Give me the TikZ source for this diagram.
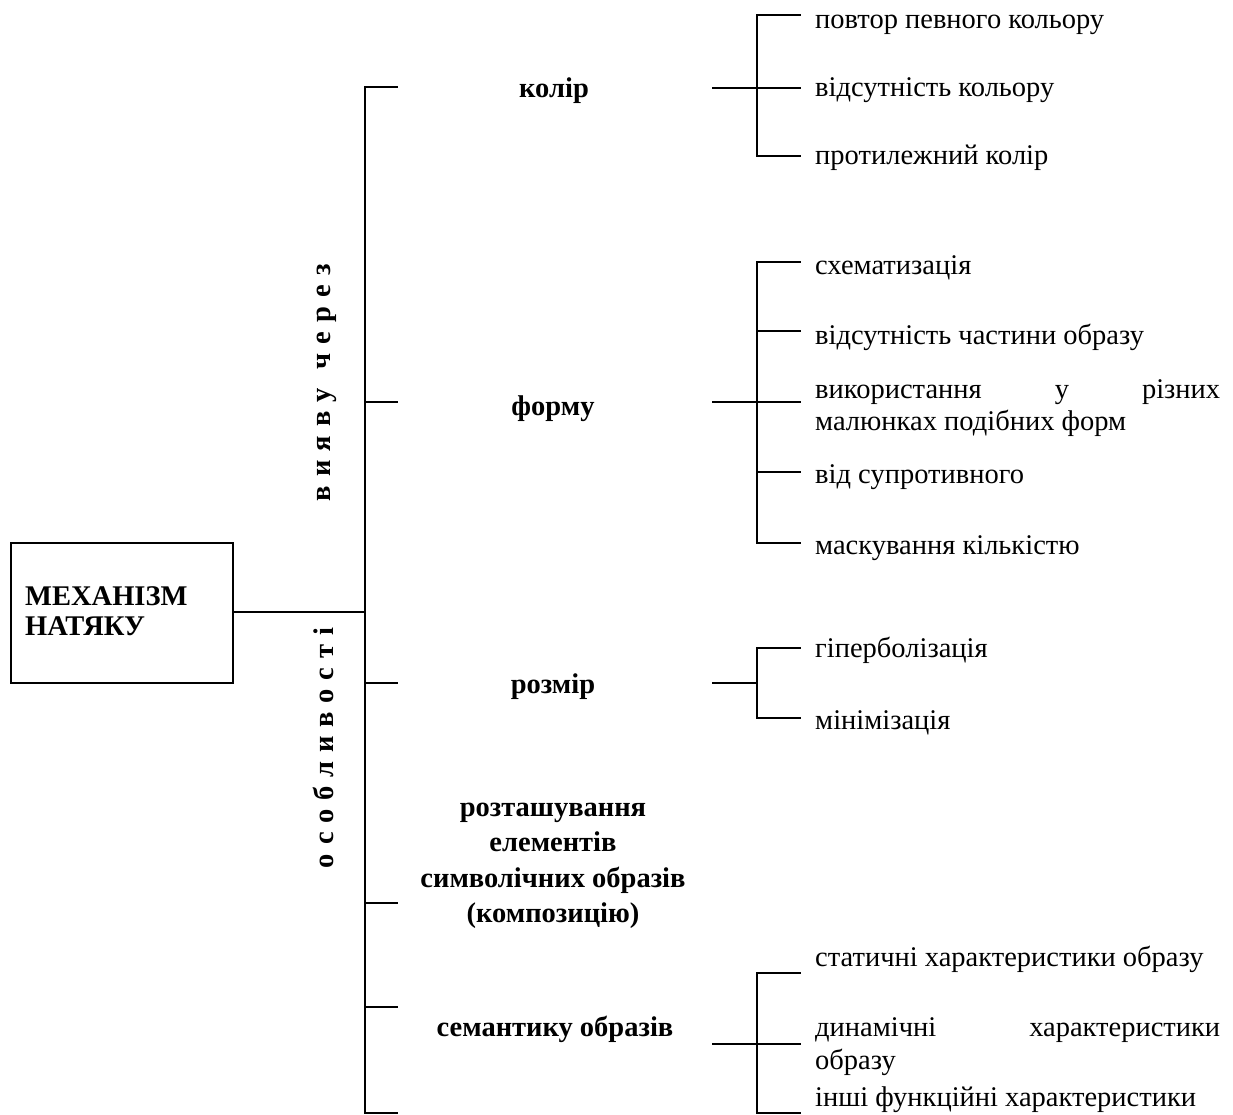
\documentclass[tikz,border=0pt]{standalone}
\usepackage{fontspec}
\setmainfont{Liberation Serif}
\newcommand\myfs{\fontsize{28.5}{32}\selectfont}
\tikzset{
  ln/.style={line width=2.4pt, line cap=rect},
  lab/.style={font=\bfseries\myfs, inner sep=0pt, anchor=base},
  itm/.style={font=\myfs, inner sep=0pt, anchor=base west},
  vtxt/.style={font=\bfseries\myfs, inner sep=0pt, rotate=90},
}
\begin{document}
\begin{tikzpicture}[x=1pt,y=-1pt]
\useasboundingbox (0,0) rectangle (1233,1115);
% main box
\node[draw, line width=2.4pt, minimum width=222pt, minimum height=140pt, inner sep=0pt] (box) at (122,613) {};
\node[font=\bfseries\myfs, inner sep=0pt, anchor=base west] (boxtxt) at (25,605)
  {\parbox[t]{200pt}{\fontsize{28.5}{30}\selectfont МЕХАНІЗМ\\НАТЯКУ}};
% trunk
\coordinate (tTop) at (365,87);
\coordinate (tBot) at (365,1113);
\coordinate (tBox) at (365,612);
\coordinate (t1) at (365,87);   \coordinate (e1) at (397,87);
\coordinate (t2) at (365,402);  \coordinate (e2) at (397,402);
\coordinate (t3) at (365,683);  \coordinate (e3) at (397,683);
\coordinate (t4) at (365,903);  \coordinate (e4) at (397,903);
\coordinate (t5) at (365,1007); \coordinate (e5) at (397,1007);
\coordinate (t6) at (365,1113); \coordinate (e6) at (397,1113);
\draw[ln] (tTop) -- (tBot);
\draw[ln] (box.east |- tBox) -- (tBox);
\foreach \i in {1,...,6} \draw[ln] (t\i) -- (e\i);
% vertical texts
\node[vtxt] (vyiav) at (327,383) {\makebox[237pt][s]{в\hfill и\hfill я\hfill в\hfill у\hfill\hfill ч\hfill е\hfill р\hfill е\hfill з}};
\node[vtxt] (osobl) at (323,748) {\makebox[240pt][s]{о\hfill с\hfill о\hfill б\hfill л\hfill и\hfill в\hfill о\hfill с\hfill т\hfill і}};
% labels
\node[lab] (kolir) at (554,98) {колір};
\node[lab] (formu) at (553,415) {форму};
\node[lab] (rozmir) at (553,693) {розмір};
\node[lab] (rozt) at (553,816) {\parbox[t]{320pt}{\centering\fontsize{28.5}{35.5}\selectfont розташування\\елементів\\символічних образів\\(композицію)}};
\node[lab] (sem) at (555,1036) {семантику образів};
% bracket колір
\coordinate (k0) at (713,88); \coordinate (kv) at (757,88);
\coordinate (ka) at (757,15); \coordinate (kb) at (757,156);
\coordinate (kae) at (800,15); \coordinate (kme) at (800,88); \coordinate (kbe) at (800,156);
\draw[ln] (k0) -- (kme);
\draw[ln] (kae) -- (ka) -- (kb) -- (kbe);
\node[itm] (k1) at (815,29) {повтор певного кольору};
\node[itm] (k2) at (815,97) {відсутність кольору};
\node[itm] (k3) at (815,165) {протилежний колір};
% bracket форму
\coordinate (f0) at (713,402); \coordinate (fme) at (800,402);
\coordinate (fa) at (757,262); \coordinate (fb) at (757,543);
\coordinate (fae) at (800,262); \coordinate (fbe) at (800,543);
\coordinate (fc) at (757,331); \coordinate (fce) at (800,331);
\coordinate (fd) at (757,472); \coordinate (fde) at (800,472);
\draw[ln] (f0) -- (fme);
\draw[ln] (fae) -- (fa) -- (fb) -- (fbe);
\draw[ln] (fc) -- (fce);
\draw[ln] (fd) -- (fde);
\node[itm] (f1) at (815,274) {схематизація};
\node[itm] (f2) at (815,344) {відсутність частини образу};
\node[itm] (f3) at (815,398) {\parbox[t]{405pt}{\myfs використання\hfill у\hfill різних\\малюнках подібних форм}};
\node[itm] (f4) at (815,483) {від супротивного};
\node[itm] (f5) at (815,554) {маскування кількістю};
% bracket розмір
\coordinate (r0) at (713,683); \coordinate (rv) at (757,683);
\coordinate (ra) at (757,648); \coordinate (rb) at (757,718);
\coordinate (rae) at (800,648); \coordinate (rbe) at (800,718);
\draw[ln] (r0) -- (rv);
\draw[ln] (rae) -- (ra) -- (rb) -- (rbe);
\node[itm] (r1) at (815,657) {гіперболізація};
\node[itm] (r2) at (815,729) {мінімізація};
% bracket семантику
\coordinate (s0) at (713,1044); \coordinate (sme) at (800,1044);
\coordinate (sa) at (757,973); \coordinate (sb) at (757,1113);
\coordinate (sae) at (800,973); \coordinate (sbe) at (800,1113);
\draw[ln] (s0) -- (sme);
\draw[ln] (sae) -- (sa) -- (sb) -- (sbe);
\node[itm] (s1) at (815,966) {статичні характеристики образу};
\node[itm] (s2) at (815,1036) {\parbox[t]{405pt}{\fontsize{28.5}{33}\selectfont динамічні\hfill характеристики\\образу}};
\node[itm] (s3) at (815,1106) {інші функційні характеристики};
\end{tikzpicture}
\end{document}
